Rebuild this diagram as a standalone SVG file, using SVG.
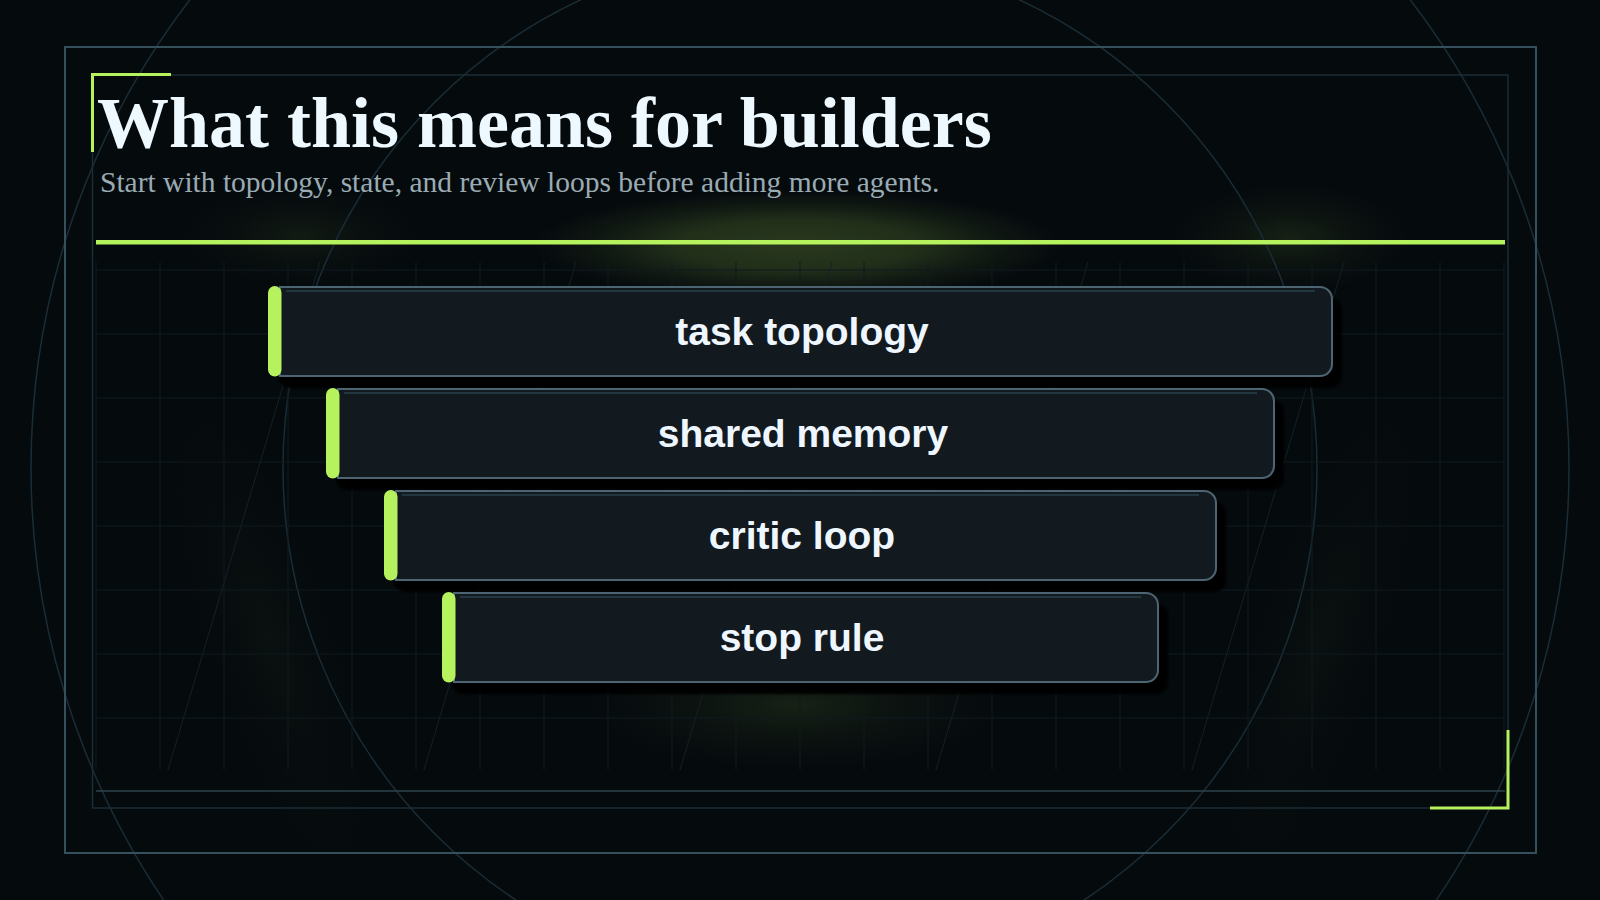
<svg xmlns="http://www.w3.org/2000/svg" width="1600" height="900" viewBox="0 0 1600 900">
  <defs>
    <radialGradient id="glow" cx="50%" cy="50%" r="50%">
      <stop offset="0" stop-color="#b6f25e" stop-opacity="1"/>
      <stop offset="0.5" stop-color="#b6f25e" stop-opacity="0.35"/>
      <stop offset="1" stop-color="#b6f25e" stop-opacity="0"/>
    </radialGradient>
    <radialGradient id="glowFlat" cx="50%" cy="50%" r="50%">
      <stop offset="0" stop-color="#b6f25e" stop-opacity="1"/>
      <stop offset="0.45" stop-color="#b6f25e" stop-opacity="0.8"/>
      <stop offset="0.75" stop-color="#b6f25e" stop-opacity="0.3"/>
      <stop offset="1" stop-color="#b6f25e" stop-opacity="0"/>
    </radialGradient>
    <filter id="soft" x="-10%" y="-10%" width="120%" height="130%">
      <feGaussianBlur stdDeviation="1"/>
    </filter>
  </defs>
  <style>
    .frame-outer { fill: none; stroke: #34505c; stroke-width: 2; }
    .frame-inner { fill: none; stroke: #1c2c34; stroke-width: 1.5; }
    .ring { fill: none; stroke: #1a2d36; stroke-width: 1.5; }
    .grid { fill: none; stroke: #0f1b21; stroke-width: 1; }
    .diag { fill: none; stroke: #12212728; stroke-width: 1; }
    .accent { fill: none; stroke: #b6f25e; stroke-width: 3; }
    .shadow { fill: #000; opacity: 0.92; }
    .box { fill: #121a20; stroke: #4d6572; stroke-width: 2; }
    .hl { stroke: #22363f; stroke-width: 2; }
    .bar { fill: #b6f25e; }
    .label { font-family: "Liberation Sans", Arial, sans-serif; font-weight: bold; font-size: 39px; fill: #eef7ff; text-anchor: middle; }
    .title { font-family: "Liberation Serif", "Times New Roman", serif; font-weight: bold; font-size: 72px; fill: #eef8ff; }
    .subtitle { font-family: "Liberation Serif", "Times New Roman", serif; font-size: 29.5px; fill: #9aabb3; }
  </style>

  <!-- background -->
  <rect x="0" y="0" width="1600" height="900" fill="#050a0d"/>

  <!-- glows -->
  <g id="glows">
    <ellipse cx="798" cy="245" rx="265" ry="55" fill="url(#glowFlat)" opacity="0.2"/>
    <ellipse cx="1290" cy="238" rx="120" ry="55" fill="url(#glow)" opacity="0.1"/>
    <ellipse cx="300" cy="236" rx="120" ry="50" fill="url(#glow)" opacity="0.07"/>
    <ellipse cx="795" cy="705" rx="210" ry="65" fill="url(#glow)" opacity="0.1"/>
    <ellipse cx="270" cy="640" rx="70" ry="260" fill="url(#glow)" opacity="0.03" transform="rotate(-18 270 640)"/>
    <ellipse cx="1320" cy="640" rx="70" ry="260" fill="url(#glow)" opacity="0.03" transform="rotate(18 1320 640)"/>
  </g>

  <!-- rings -->
  <circle class="ring" cx="800" cy="468" r="769"/>
  <circle class="ring" cx="800" cy="468" r="517"/>

  <!-- grid -->
  <path class="grid" d="M96 262V770M160 262V770M224 262V770M288 262V770M352 262V770M416 262V770M480 262V770M544 262V770M608 262V770M672 262V770M736 262V770M800 262V770M864 262V770M928 262V770M992 262V770M1056 262V770M1120 262V770M1184 262V770M1248 262V770M1312 262V770M1376 262V770M1440 262V770M1504 262V770M96 270H1504M96 334H1504M96 398H1504M96 462H1504M96 526H1504M96 590H1504M96 654H1504M96 718H1504"/>
  <path d="M168 770L320 262M424 770L576 262M680 770L832 262M936 770L1088 262M1192 770L1344 262" fill="none" stroke="#122127" stroke-width="1"/>

  <!-- frames -->
  <rect class="frame-outer" x="65" y="47" width="1471" height="806"/>
  <rect class="frame-inner" x="92.5" y="75" width="1415.5" height="733"/>
  <line x1="96" y1="791" x2="1505" y2="791" stroke="#2c434d" stroke-width="1.5"/>
  <path class="accent" d="M92.5 152V74.5H171"/>
  <path class="accent" d="M1508 730V808H1430"/>

  <!-- header -->
  <g id="header">
    <text class="title" x="97" y="147">What this means for builders</text>
    <text class="subtitle" x="100" y="192">Start with topology, state, and review loops before adding more agents.</text>
    <rect x="96" y="240" width="1409" height="4.5" fill="#b6f25e"/>
  </g>

  <!-- nodes -->
  <g id="node-task-topology">
    <rect class="shadow" x="278" y="298" width="1064" height="90" rx="12" filter="url(#soft)"/>
    <path class="box" d="M280 287H1320A12 12 0 0 1 1332 299V364A12 12 0 0 1 1320 376H280Z"/>
    <line class="hl" x1="286" y1="291" x2="1315" y2="291"/>
    <rect class="bar" x="268" y="286" width="13.5" height="90.5" rx="6.75"/>
    <text class="label" x="802" y="345">task topology</text>
  </g>

  <g id="node-shared-memory">
    <rect class="shadow" x="336" y="400" width="948" height="90" rx="12" filter="url(#soft)"/>
    <path class="box" d="M338 389H1262A12 12 0 0 1 1274 401V466A12 12 0 0 1 1262 478H338Z"/>
    <line class="hl" x1="344" y1="393" x2="1257" y2="393"/>
    <rect class="bar" x="326" y="388" width="13.5" height="90.5" rx="6.75"/>
    <text class="label" x="803" y="447">shared memory</text>
  </g>

  <g id="node-critic-loop">
    <rect class="shadow" x="394" y="502" width="832" height="90" rx="12" filter="url(#soft)"/>
    <path class="box" d="M396 491H1204A12 12 0 0 1 1216 503V568A12 12 0 0 1 1204 580H396Z"/>
    <line class="hl" x1="402" y1="495" x2="1199" y2="495"/>
    <rect class="bar" x="384" y="490" width="13.5" height="90.5" rx="6.75"/>
    <text class="label" x="802" y="549">critic loop</text>
  </g>

  <g id="node-stop-rule">
    <rect class="shadow" x="452" y="604" width="716" height="90" rx="12" filter="url(#soft)"/>
    <path class="box" d="M454 593H1146A12 12 0 0 1 1158 605V670A12 12 0 0 1 1146 682H454Z"/>
    <line class="hl" x1="460" y1="597" x2="1141" y2="597"/>
    <rect class="bar" x="442" y="592" width="13.5" height="90.5" rx="6.75"/>
    <text class="label" x="802" y="651">stop rule</text>
  </g>
</svg>
